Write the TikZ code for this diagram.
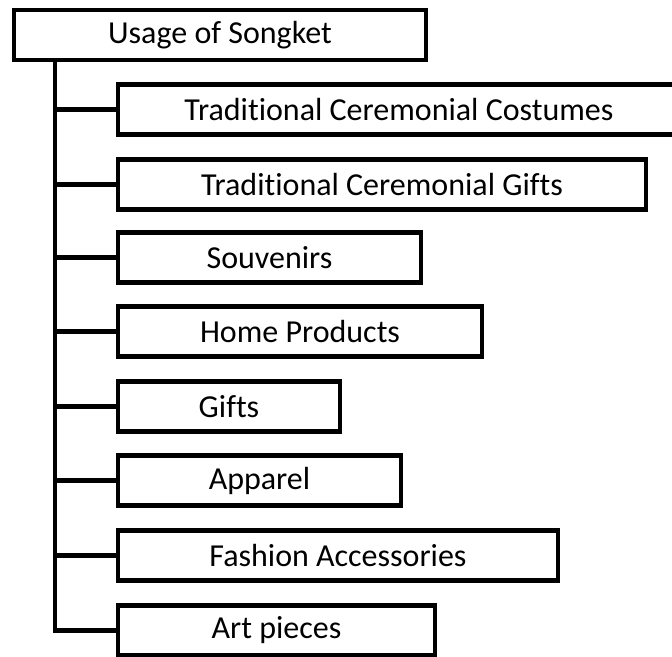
\documentclass[tikz,border=0pt]{standalone}
\usepackage{fontspec}
\setmainfont{Carlito}[Ligatures={NoCommon},RawFeature={-liga;-clig}]
\begin{document}
\begin{tikzpicture}[x=1pt,y=-1pt,
  box/.style={draw=black, line width=4.5pt, fill=white, rectangle, inner sep=0pt,
    minimum height=50pt, font=\fontsize{32}{38}\selectfont},
  conn/.style={draw=black, line width=4.5pt, line join=miter}]
\useasboundingbox (0,0) rectangle (672,656);
\node[box, minimum width=412pt, minimum height=50pt] (root) at (220,35) {Usage of Songket};
\node[box, minimum width=562pt] (c1) at (399,109.5) {Traditional Ceremonial Costumes};
\node[box, minimum width=528pt] (c2) at (382,184.5) {Traditional Ceremonial Gifts};
\node[box, minimum width=303pt] (c3) at (269.5,257.5) {Souvenirs};
\node[box, minimum width=364pt] (c4) at (300,331.5) {Home Products};
\node[box, minimum width=222pt] (c5) at (229,406.5) {Gifts};
\node[box, minimum width=283pt] (c6) at (259.5,480.5) {Apparel};
\node[box, minimum width=440pt] (c7) at (338,555.5) {Fashion Accessories};
\node[box, minimum width=317pt] (c8) at (276.5,630.5) {Art pieces};
\coordinate (t) at (55,0);
\draw[conn] (t |- root.south) |- (c8.west);
\foreach \c in {c1,c2,c3,c4,c5,c6,c7} {
  \draw[conn] (t |- \c.west) -- (\c.west);
}
\end{tikzpicture}
\end{document}
